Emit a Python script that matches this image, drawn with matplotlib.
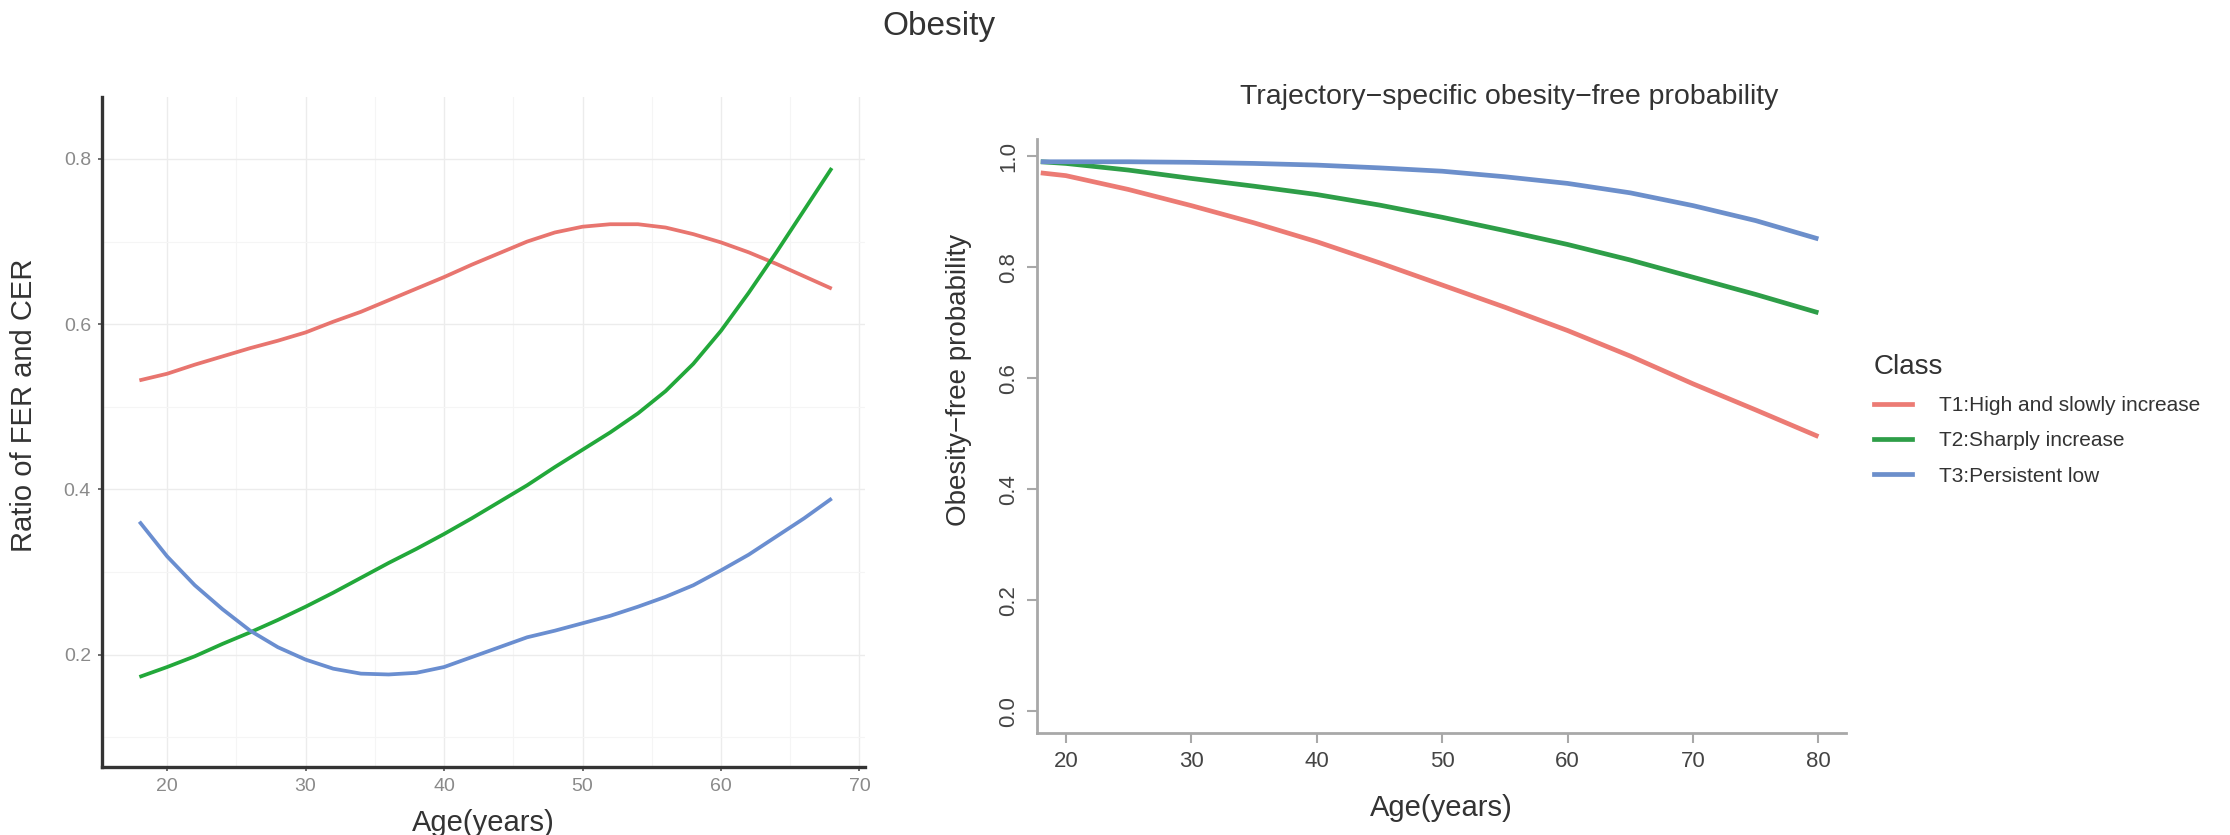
import matplotlib
matplotlib.use("Agg")
import matplotlib.pyplot as plt
from matplotlib.lines import Line2D

plt.rcParams['font.family'] = ['Liberation Sans', 'DejaVu Sans']

# left panel: ratio of FER and CER by age
left_age = [18, 20, 22, 24, 26, 28, 30, 32, 34, 36, 38, 40, 42, 44, 46, 48,
            50, 52, 54, 56, 58, 60, 62, 64, 66, 68]
left_t1 = [0.532, 0.540, 0.551, 0.561, 0.571, 0.580, 0.590, 0.603, 0.615, 0.629,
           0.643, 0.657, 0.672, 0.686, 0.700, 0.711, 0.718, 0.721, 0.721, 0.717,
           0.709, 0.699, 0.687, 0.673, 0.658, 0.643]
left_t2 = [0.173, 0.185, 0.198, 0.213, 0.227, 0.242, 0.258, 0.275, 0.293, 0.311,
           0.328, 0.346, 0.365, 0.385, 0.405, 0.427, 0.448, 0.469, 0.492, 0.519,
           0.552, 0.592, 0.638, 0.687, 0.738, 0.789]
left_t3 = [0.361, 0.319, 0.284, 0.255, 0.229, 0.209, 0.194, 0.183, 0.177, 0.176,
           0.178, 0.185, 0.197, 0.209, 0.221, 0.229, 0.238, 0.247, 0.258, 0.270,
           0.284, 0.302, 0.321, 0.343, 0.365, 0.389]

# right panel: obesity-free probability
right_age = [18, 20, 25, 30, 35, 40, 45, 50, 55, 60, 65, 70, 75, 80]
right_t1 = [0.970, 0.965, 0.940, 0.911, 0.880, 0.846, 0.808, 0.768, 0.728,
            0.686, 0.640, 0.590, 0.543, 0.495]
right_t2 = [0.990, 0.987, 0.975, 0.960, 0.946, 0.931, 0.912, 0.890, 0.866,
            0.841, 0.813, 0.782, 0.751, 0.718]
right_t3 = [0.990, 0.990, 0.990, 0.989, 0.987, 0.984, 0.979, 0.973, 0.963,
            0.951, 0.934, 0.911, 0.884, 0.851]

classes = ["T1:High and slowly increase", "T2:Sharply increase", "T3:Persistent low"]
left_cols = ["#E8756F", "#22A83A", "#6A8ED0"]
right_cols = ["#EC7B74", "#2E9E48", "#6C8FCB"]

fig = plt.figure(figsize=(22.3, 8.35), dpi=100)

# ---- left panel ----
ax1 = fig.add_axes([102 / 2230, 1 - 767 / 835, 763 / 2230, 670 / 835])
for ys, c in zip([left_t1, left_t2, left_t3], left_cols):
    ax1.plot(left_age, ys, color=c, lw=2.7, solid_capstyle="butt")
ax1.set_xlim(15.3, 70.4)
ax1.set_ylim(0.064, 0.875)
ax1.set_xticks([20, 30, 40, 50, 60, 70])
ax1.set_yticks([0.2, 0.4, 0.6, 0.8])
ax1.set_xticks([25, 35, 45, 55, 65], minor=True)
ax1.set_yticks([0.1, 0.3, 0.5, 0.7], minor=True)
ax1.grid(True, which="major", color="#ececec", lw=1.0)
ax1.grid(True, which="minor", color="#f5f5f5", lw=0.8)
ax1.set_axisbelow(True)
for s in ["top", "right"]:
    ax1.spines[s].set_visible(False)
for s in ["left", "bottom"]:
    ax1.spines[s].set_color("#333333")
    ax1.spines[s].set_linewidth(2.4)
ax1.tick_params(which="major", length=3, width=1.2, color="#555555",
                labelsize=14, labelcolor="#8a8a8a", pad=5)
ax1.tick_params(which="minor", length=0)
ax1.set_xlabel("Age(years)", fontsize=21, color="#333333", labelpad=10)
ax1.set_ylabel("Ratio of FER and CER", fontsize=21, color="#333333")
ax1.yaxis.set_label_coords(-0.084, 0.54)

# ---- right panel ----
ax2 = fig.add_axes([1037 / 2230, 1 - 733 / 835, 809 / 2230, 594 / 835])
for ys, c in zip([right_t1, right_t2, right_t3], right_cols):
    ax2.plot(right_age, ys, color=c, lw=3.4, solid_capstyle="butt")
ax2.set_xlim(17.7, 82.2)
ax2.set_ylim(-0.039, 1.031)
ax2.set_xticks([20, 30, 40, 50, 60, 70, 80])
ax2.set_yticks([0.0, 0.2, 0.4, 0.6, 0.8, 1.0])
for s in ["top", "right"]:
    ax2.spines[s].set_visible(False)
for s in ["left", "bottom"]:
    ax2.spines[s].set_color("#a8a8a8")
    ax2.spines[s].set_linewidth(2.0)
ax2.tick_params(length=7, width=1.5, color="#a8a8a8", labelsize=16,
                labelcolor="#444444", pad=6)
ax2.tick_params(axis="y", labelrotation=90)
for lab in ax2.get_yticklabels():
    lab.set_va("center")
ax2.set_xlabel("Age(years)", fontsize=21, color="#333333", labelpad=16)
ax2.set_ylabel("Obesity\u2212free probability", fontsize=20, color="#333333")
ax2.yaxis.set_label_coords(-0.080, 0.595)

fig.text(1509 / 2230, 1 - 97 / 835,
         "Trajectory\u2212specific obesity\u2212free probability",
         fontsize=20.5, color="#333333", ha="center", va="center")

# legend
handles = [Line2D([0], [0], color=c, lw=3.4) for c in right_cols]
leg = fig.legend(handles, classes, title="Class", loc="upper left",
                 bbox_to_anchor=(1874 / 2230, 1 - 354 / 835), frameon=False,
                 fontsize=15, title_fontsize=20, handlelength=1.8,
                 handletextpad=1.3, labelspacing=0.78, borderpad=0,
                 borderaxespad=0, alignment="left")
for t in leg.get_texts():
    t.set_color("#333333")
leg.get_title().set_color("#333333")

fig.text(939 / 2230, 1 - 26 / 835, "Obesity", fontsize=24, color="#333333",
         ha="center", va="center")

fig.savefig("out.png", dpi=100)
